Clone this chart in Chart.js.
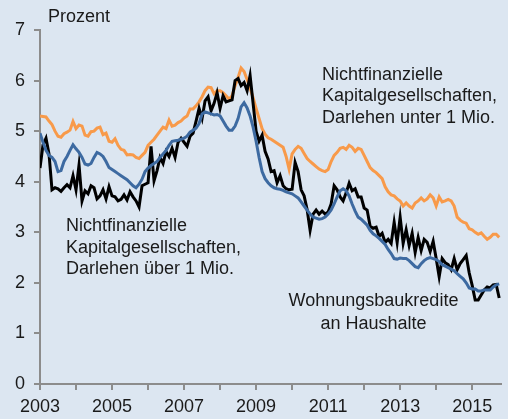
<!DOCTYPE html>
<html lang="de">
<head>
<meta charset="UTF-8">
<title>Zinssätze für Bankkredite</title>
<script src="https://cdn.jsdelivr.net/npm/chart.js@4.4.0/dist/chart.umd.min.js"></script>
<style>
  html, body { margin: 0; padding: 0; background: #dce6f1; }
  .chart-box { position: relative; width: 508px; height: 419px; }
</style>
</head>
<body>
<div class="chart-box"><canvas id="chart"></canvas></div>
<script>
// Monatswerte ab Januar 2003
const startYear = 2003;
const xTicks = [2003, 2004, 2005, 2006, 2007, 2008, 2009, 2010, 2011, 2012, 2013, 2014, 2015];
const yTicks = [0, 1, 2, 3, 4, 5, 6, 7];

// Nichtfinanzielle Kapitalgesellschaften, Darlehen unter 1 Mio.
const unter1Mio = [
  5.30, 5.29, 5.28, 5.20, 5.13, 5.00, 4.90, 4.88, 4.95, 4.98, 5.02, 5.19,
  5.05, 5.12, 5.10, 4.92, 4.90, 4.99, 5.00, 5.06, 5.08, 4.93, 4.96, 4.80,
  4.78, 4.85, 4.72, 4.64, 4.62, 4.53, 4.54, 4.53, 4.48, 4.46, 4.52, 4.58,
  4.72, 4.78, 4.84, 4.92, 5.00, 5.08, 5.05, 5.22, 5.10, 5.12, 5.17, 5.20,
  5.26, 5.30, 5.44, 5.44, 5.50, 5.58, 5.68, 5.80, 5.87, 5.86, 5.74, 5.80,
  5.80, 5.76, 5.70, 5.63, 5.70, 5.90, 6.06, 6.25, 6.18, 6.02, 5.85, 5.66,
  5.45, 5.25, 5.05, 4.94, 4.87, 4.84, 4.80, 4.76, 4.72, 4.68, 4.50, 4.25,
  4.55, 4.64, 4.70, 4.66, 4.56, 4.46, 4.40, 4.35, 4.30, 4.25, 4.22, 4.20,
  4.24, 4.40, 4.52, 4.58, 4.66, 4.68, 4.64, 4.72, 4.68, 4.60, 4.66, 4.64,
  4.52, 4.40, 4.28, 4.22, 4.18, 4.12, 4.06, 3.90, 3.80, 3.74, 3.72, 3.66,
  3.62, 3.52, 3.58, 3.52, 3.48, 3.58, 3.62, 3.68, 3.62, 3.66, 3.74, 3.68,
  3.52, 3.70, 3.60, 3.62, 3.65, 3.62, 3.52, 3.30, 3.24, 3.20, 3.18, 3.07,
  3.05, 3.00, 2.96, 2.99, 2.92, 2.86, 2.90, 2.96, 2.96, 2.90
];

// Nichtfinanzielle Kapitalgesellschaften, Darlehen über 1 Mio.
const ueber1Mio = [
  4.27, 4.73, 4.86, 4.55, 3.84, 3.88, 3.86, 3.81, 3.88, 3.94, 3.88, 4.12,
  3.84, 4.33, 3.62, 3.82, 3.76, 3.92, 3.88, 3.66, 3.72, 3.84, 3.66, 3.90,
  3.72, 3.70, 3.62, 3.65, 3.74, 3.64, 3.80, 3.70, 3.62, 3.50, 3.92, 3.95,
  3.98, 4.70, 4.02, 4.22, 4.48, 4.36, 4.60, 4.50, 4.66, 4.48, 4.78, 4.86,
  4.78, 4.70, 4.90, 4.96, 5.20, 5.45, 5.25, 5.60, 5.68, 5.40, 5.55, 5.76,
  5.45, 5.70, 5.58, 5.60, 5.62, 6.00, 6.04, 5.90, 5.96, 5.80, 6.10, 5.55,
  5.00, 4.80, 4.92, 4.60, 4.45, 4.20, 4.22, 3.98, 4.12, 3.92, 3.86, 3.84,
  3.85, 4.38, 4.20, 3.84, 3.72, 3.45, 3.04, 3.36, 3.44, 3.36, 3.42, 3.36,
  3.40, 3.56, 3.92, 3.84, 3.70, 3.62, 3.78, 3.97, 3.82, 3.86, 3.70, 3.70,
  3.48, 3.44, 3.12, 3.08, 3.10, 2.92, 2.98, 2.80, 2.86, 2.78, 3.20, 2.80,
  3.30, 2.78, 3.05, 2.74, 2.98, 2.60, 2.90, 2.64, 2.86, 2.80, 2.62, 2.82,
  2.48, 2.12, 2.48, 2.40, 2.36, 2.26, 2.48, 2.26, 2.38, 2.46, 2.54, 2.20,
  1.95, 1.66, 1.66, 1.76, 1.86, 1.92, 1.90, 1.96, 1.97, 1.70
];

// Wohnungsbaukredite an Haushalte
const wohnungsbau = [
  4.96, 4.78, 4.62, 4.52, 4.48, 4.40, 4.20, 4.22, 4.40, 4.50, 4.62, 4.73,
  4.65, 4.58, 4.48, 4.35, 4.33, 4.36, 4.48, 4.58, 4.55, 4.50, 4.40, 4.28,
  4.24, 4.20, 4.16, 4.12, 4.08, 4.04, 3.98, 3.92, 3.88, 3.95, 4.05, 4.20,
  4.27, 4.32, 4.36, 4.40, 4.48, 4.55, 4.62, 4.72, 4.80, 4.81, 4.82, 4.84,
  4.86, 4.90, 4.98, 5.02, 5.06, 5.15, 5.34, 5.38, 5.36, 5.34, 5.32, 5.33,
  5.30, 5.20, 5.10, 5.02, 5.02, 5.10, 5.25, 5.48, 5.56, 5.46, 5.30, 5.08,
  4.80, 4.48, 4.20, 4.06, 3.98, 3.92, 3.88, 3.86, 3.85, 3.83, 3.80, 3.78,
  3.76, 3.72, 3.68, 3.60, 3.52, 3.44, 3.36, 3.30, 3.28, 3.26, 3.27, 3.30,
  3.36, 3.44, 3.56, 3.70, 3.82, 3.86, 3.82, 3.72, 3.56, 3.42, 3.30, 3.26,
  3.20, 3.14, 3.04, 2.97, 2.93, 2.88, 2.82, 2.76, 2.66, 2.58, 2.48, 2.47,
  2.49, 2.48, 2.48, 2.44, 2.38, 2.32, 2.30, 2.38, 2.44, 2.48, 2.50, 2.48,
  2.46, 2.42, 2.36, 2.33, 2.30, 2.27, 2.24, 2.18, 2.13, 2.08, 2.00, 1.90,
  1.88, 1.88, 1.84, 1.84, 1.86, 1.86, 1.86, 1.92, 1.96, 1.98
];

const toPoints = arr => arr.map((v, i) => ({ x: startYear + i / 12, y: v }));

const FONT = 'Liberation Sans, Arial, Helvetica, sans-serif';
const AXIS = '#8c8c8c';
const TEXT = '#1a1a1a';

// Beschriftungen im Diagramm
const notes = {
  id: 'notes',
  afterDraw(chart) {
    const c = chart.ctx;
    c.save();
    c.font = '18px ' + FONT;
    c.fillStyle = TEXT;
    c.textBaseline = 'alphabetic';
    c.textAlign = 'left';
    c.fillText('Prozent', 48, 22);
    ['Nichtfinanzielle', 'Kapitalgesellschaften,', 'Darlehen unter 1 Mio.']
      .forEach((t, i) => c.fillText(t, 322, 80 + i * 21.3));
    ['Nichtfinanzielle', 'Kapitalgesellschaften,', 'Darlehen über 1 Mio.']
      .forEach((t, i) => c.fillText(t, 66, 231 + i * 21.5));
    c.textAlign = 'center';
    ['Wohnungsbaukredite', 'an Haushalte']
      .forEach((t, i) => c.fillText(t, 373.5, 306 + i * 23.3));
    c.restore();
  }
};

new Chart(document.getElementById('chart'), {
  type: 'line',
  data: {
    datasets: [
      { data: toPoints(unter1Mio), borderColor: '#f89a4a', borderWidth: 3 },
      { data: toPoints(ueber1Mio), borderColor: '#000000', borderWidth: 3 },
      { data: toPoints(wohnungsbau), borderColor: '#3d6aa1', borderWidth: 3 }
    ].map((d, i) => Object.assign(d, { pointRadius: 0, tension: 0, fill: false, order: 3 - i }))
  },
  options: {
    responsive: true,
    maintainAspectRatio: false,
    animation: false,
    layout: { padding: { top: 30, right: 7, left: 0, bottom: 0 } },
    plugins: { legend: { display: false }, tooltip: { enabled: false } },
    scales: {
      x: {
        type: 'linear',
        min: 2003,
        max: 2015.8,
        afterBuildTicks: s => { s.ticks = xTicks.map(v => ({ value: v })); },
        afterFit: s => { s.height = 35; },
        border: { color: AXIS, width: 2 },
        grid: { drawOnChartArea: false, drawTicks: true, tickLength: 6, color: AXIS, lineWidth: 2 },
        ticks: {
          autoSkip: false,
          maxRotation: 0,
          padding: 6,
          color: TEXT,
          font: { family: FONT, size: 18 },
          callback: v => (v % 2 === 1 ? String(v) : '')
        }
      },
      y: {
        min: 0,
        max: 7,
        afterBuildTicks: s => { s.ticks = yTicks.map(v => ({ value: v })); },
        afterFit: s => { s.width = 40; },
        border: { color: AXIS, width: 2 },
        grid: { drawOnChartArea: false, drawTicks: true, tickLength: 6, color: AXIS, lineWidth: 2 },
        ticks: {
          padding: 9,
          color: TEXT,
          font: { family: FONT, size: 18 }
        }
      }
    }
  },
  plugins: [notes]
});
</script>
</body>
</html>
